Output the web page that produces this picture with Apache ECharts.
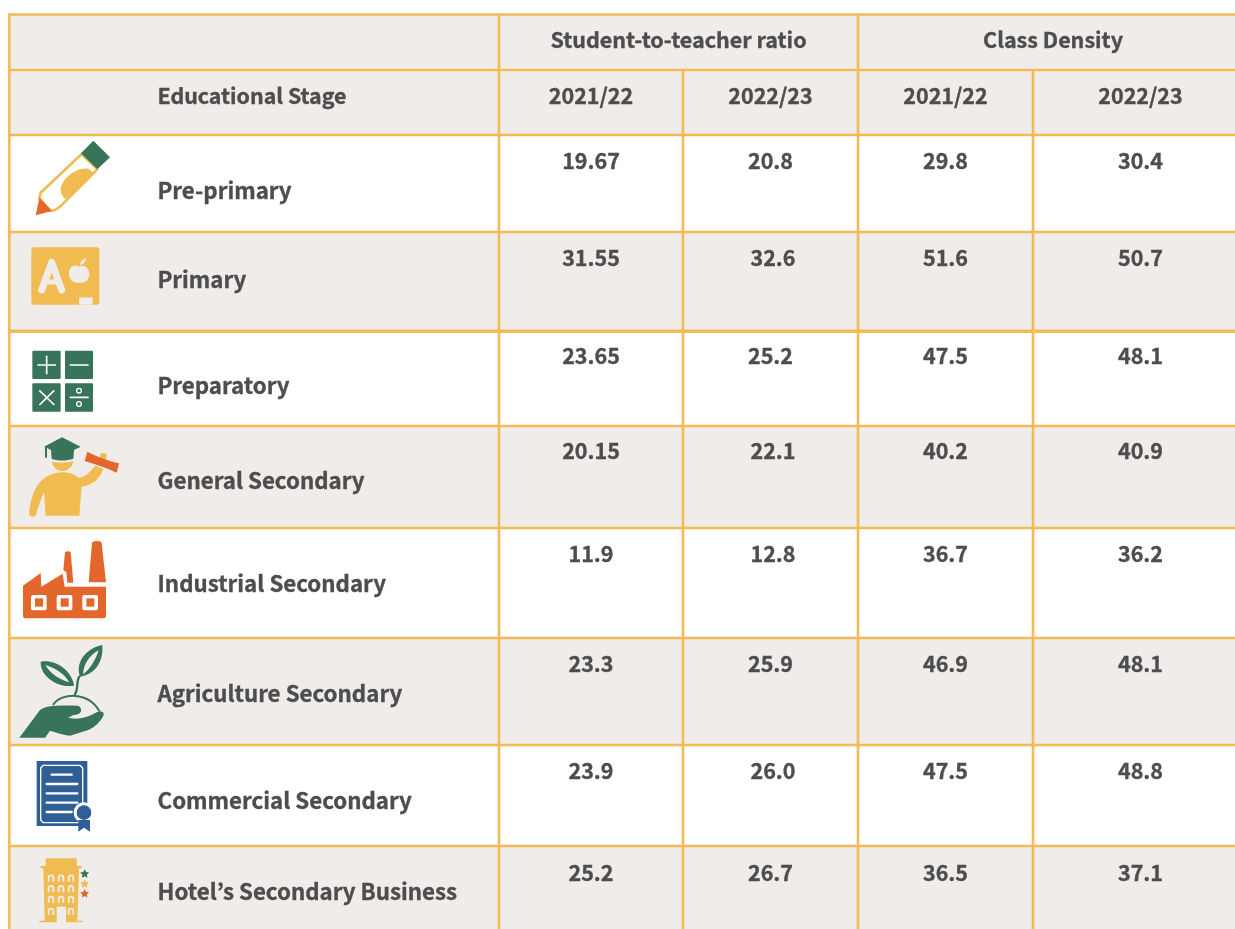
<!DOCTYPE html>
<html>
<head>
<meta charset="utf-8">
<title>Educational stages</title>
<script src="https://cdn.jsdelivr.net/npm/echarts@6/dist/echarts.min.js"></script>
<style>
  html, body { margin: 0; padding: 0; background: #fff; overflow: hidden; }
  #chart { width: 1235px; height: 929px; }
</style>
</head>
<body>
<div id="chart"></div>
<script>
// table content
const stages = ['Pre-primary', 'Primary', 'Preparatory', 'General Secondary', 'Industrial Secondary', 'Agriculture Secondary', 'Commercial Secondary', 'Hotel\u2019s Secondary Business']
const groupHeaders = ['Student-to-teacher ratio', 'Class Density']
const yearHeaders = ['2021/22', '2022/23', '2021/22', '2022/23']
const stageHeader = 'Educational Stage'
const ratio2122 = ['19.67', '31.55', '23.65', '20.15', '11.9', '23.3', '23.9', '25.2']
const ratio2223 = ['20.8', '32.6', '25.2', '22.1', '12.8', '25.9', '26.0', '26.7']
const density2122 = ['29.8', '51.6', '47.5', '40.2', '36.7', '46.9', '47.5', '36.5']
const density2223 = ['30.4', '50.7', '48.1', '40.9', '36.2', '48.1', '48.8', '37.1']

// layout of the table, in axis units
const rowEdges = [14.5, 70, 135, 232, 331.3, 426, 528, 638, 745, 846, 960]
const colEdges = [9.3, 499, 683, 858, 1033, 1248]
const stageLabelY = [190.5, 279.5, 385.5, 480.5, 583.5, 693.5, 800.5, 891.5]
const valueY = [161, 258, 356, 451, 554, 664, 771, 873]
const stageLabelX = 157.5
// some cells of the 2022/23 column sit a little off centre in the source
const ratio2223Nudge = [0, 2.5, 0, 2.5, 2.5, 0, 2.5, 0]

// colours
const LINE = '#f2bb55'
const GREY = '#f0ecea'
const INK = '#4d4d4f'
const GREEN = '#38745a'
const ORANGE = '#e3672c'
const YELLOW = '#f0bb50'
const BLUE = '#2f5f97'
const FONT = '"Noto Sans CJK JP", "Noto Sans", sans-serif'

const rowFill = (i) => (i < 2 || i % 2 === 1 ? GREY : '#ffffff')

// helpers for the icons, drawn in units of 1/3 px
const fill = (d, color) => ({ type: 'path', shape: { pathData: d }, style: { fill: color } })
const stroke = (d, color, w, cap) => ({ type: 'path', shape: { pathData: d }, style: { fill: 'none', stroke: color, lineWidth: w, lineCap: cap || 'round', lineJoin: 'round' } })
const star = (cx, cy, r, color) => {
  const pts = []
  for (let k = 0; k < 10; k++) {
    const a = -Math.PI / 2 + k * Math.PI / 5
    const rr = k % 2 ? r * 0.5 : r
    pts.push((k ? 'L' : 'M') + (cx + rr * Math.cos(a)).toFixed(1) + ' ' + (cy + rr * Math.sin(a)).toFixed(1))
  }
  return fill(pts.join(' ') + ' Z', color)
}
const arch = (x, y) => stroke(`M${x - 7} ${y + 12} V${y} A7 7 0 0 1 ${x + 7} ${y} V${y + 12}`, GREY, 5.5, 'butt')

const icons = [
  { origin: [0, 130], parts: [
    stroke('M245 72 L292 118 L180 230 L165 240 L152 243 L118 205 L122 188 Z', YELLOW, 8),
    fill('M183 170 C195 135 235 112 265 116 L282 128 L198 208 C185 200 180 185 183 170 Z', YELLOW),
    fill('M118 203 L156 243 L107 256 Z', ORANGE),
    fill('M243 70 L280 32 L330 82 L292 118 Z', GREEN)
  ] },
  { origin: [0, 130], parts: [
    { type: 'rect', shape: { x: 94, y: 352, width: 204, height: 172, r: 8 }, style: { fill: YELLOW } },
    { type: 'rect', shape: { x: 237, y: 502, width: 41, height: 22 }, style: { fill: GREY } },
    stroke('M125 480 L155 397 L185 480', GREY, 21),
    stroke('M137 456 L173 456', GREY, 15, 'butt'),
    fill('M237 410 C220 400 205 415 207 432 C208 450 222 460 238 458 C254 460 268 450 268 432 C268 413 250 402 237 410 Z', GREY),
    fill('M240 405 C240 395 248 388 258 385 C258 395 252 403 240 405 Z', GREY)
  ] },
  { origin: [0, 335], parts: [
    { type: 'rect', shape: { x: 97, y: 47, width: 85, height: 85, r: 3 }, style: { fill: GREEN } },
    { type: 'rect', shape: { x: 195, y: 47, width: 84, height: 85, r: 3 }, style: { fill: GREEN } },
    { type: 'rect', shape: { x: 97, y: 145, width: 85, height: 85, r: 3 }, style: { fill: GREEN } },
    { type: 'rect', shape: { x: 195, y: 145, width: 84, height: 85, r: 3 }, style: { fill: GREEN } },
    stroke('M140 62 V118 M112 90 H168 M209 90 H266 M118 166 L163 210 M163 166 L118 210 M209 187 H266', '#ffffff', 5, 'butt'),
    { type: 'circle', shape: { cx: 237, cy: 167, r: 7 }, style: { fill: 'none', stroke: '#ffffff', lineWidth: 4 } },
    { type: 'circle', shape: { cx: 237, cy: 207, r: 7 }, style: { fill: 'none', stroke: '#ffffff', lineWidth: 4 } }
  ] },
  { origin: [0, 335], parts: [
    { type: 'circle', shape: { cx: 310, cy: 364, r: 10 }, style: { fill: YELLOW } },
    fill('M98 545 C88 545 86 535 88 528 C95 480 110 420 180 412 C205 410 225 418 236 428 C260 425 275 405 285 392 L310 402 C300 430 280 450 245 455 L238 542 L137 542 L132 470 C125 490 112 520 110 535 C108 542 104 545 98 545 Z', YELLOW),
    fill('M156 380 C170 384 205 384 220 378 C218 395 205 408 187 408 C170 408 158 395 156 380 Z', YELLOW),
    fill('M186 307 L242 335 L222 345 L220 371 C200 378 170 378 155 371 L153 345 L141 339 L141 368 L135 368 L135 336 L132 335 Z', GREEN),
    fill('M262 350 C290 365 320 375 357 385 L350 413 C320 398 285 388 254 378 Z', ORANGE)
  ] },
  { origin: [0, 335], parts: [
    fill('M69 752 L122 714 L124 755 L188 716 L194 755 L318 755 L318 843 Q318 850 311 850 L76 850 Q69 850 69 843 Z', ORANGE),
    fill('M190 705 L195 652 Q203 645 212 652 L220 743 L202 743 L199 712 Z', ORANGE),
    fill('M266 742 L276 625 Q278 618 290 618 Q304 618 305 625 L318 742 Z', ORANGE),
    ...[93, 170, 247].flatMap((x) => [
      { type: 'rect', shape: { x: x, y: 780, width: 47, height: 46, r: 6 }, style: { fill: '#ffffff' } },
      { type: 'rect', shape: { x: x + 12, y: 790, width: 24, height: 25 }, style: { fill: ORANGE } }
    ])
  ] },
  { origin: [0, 635], parts: [
    fill('M122 80 C165 72 215 105 222 152 C175 160 120 125 122 80 Z', GREEN),
    fill('M136 90 C165 98 195 118 208 142 C180 135 150 115 136 90 Z', GREY),
    fill('M307 30 C310 70 295 115 240 125 C225 85 255 40 307 30 Z', GREEN),
    fill('M296 46 C288 72 272 100 250 118 C248 92 268 60 296 46 Z', GREY),
    stroke('M225 178 C236 160 228 140 238 125', GREEN, 7),
    stroke('M160 208 C185 172 265 170 298 228', GREEN, 6),
    fill('M58 308 L120 225 C135 212 170 210 235 212 C250 222 245 240 220 240 L205 248 C230 256 260 250 290 232 C305 225 315 232 310 242 C300 262 285 275 265 285 L210 302 C190 300 170 292 150 287 L135 308 Z', GREEN)
  ] },
  { origin: [0, 635], parts: [
    { type: 'rect', shape: { x: 110, y: 378, width: 152, height: 195 }, style: { fill: BLUE } },
    stroke('M130 391 H240 L248 399 V555 L240 563 H130 L122 555 V399 Z', '#ffffff', 4),
    stroke('M155 419 H215 M140 447 H232 M140 475 H232 M140 503 H232 M140 531 H215', '#ffffff', 7),
    { type: 'circle', shape: { cx: 252, cy: 533, r: 31 }, style: { fill: '#ffffff' } },
    fill('M235 555 H270 V590 L252 578 L235 590 Z', BLUE),
    { type: 'circle', shape: { cx: 252, cy: 533, r: 22 }, style: { fill: BLUE } }
  ] },
  { origin: [0, 635], parts: [
    fill('M137 670 H230 V693 H245 V700 H237 L232 857 H248 V862 H198 V815 H170 V862 H118 V857 H134 L130 700 H122 V693 H137 Z', YELLOW),
    ...[153, 183, 213].flatMap((x) => [arch(x, 728), arch(x, 760), arch(x, 792)]),
    arch(153, 828), arch(213, 828),
    star(254, 717, 14, GREEN), star(254, 747, 14, YELLOW), star(254, 776, 14, ORANGE)
  ] }
]

// one entry per body/header text
const textCells = []
const colCenter = (c) => (colEdges[c] + colEdges[c + 1]) / 2
textCells.push({ x: (colEdges[1] + colEdges[3]) / 2, y: 40, text: groupHeaders[0], align: 'center', size: 21.5 })
textCells.push({ x: (colEdges[3] + colEdges[5]) / 2, y: 40, text: groupHeaders[1], align: 'center', size: 21.5 })
textCells.push({ x: stageLabelX, y: 96, text: stageHeader, align: 'left', size: 21.4 })
yearHeaders.forEach((t, c) => textCells.push({ x: colCenter(c + 1), y: 96, text: t, align: 'center', size: 21.5 }))
stages.forEach((name, i) => {
  textCells.push({ x: stageLabelX, y: stageLabelY[i], text: name, align: 'left', size: 22.3 })
  ;[ratio2122, ratio2223, density2122, density2223].forEach((vals, c) => {
    const nudge = c === 1 ? ratio2223Nudge[i] : 0
    textCells.push({ x: colCenter(c + 1) + nudge, y: valueY[i], text: vals[i], align: 'center', size: 21.5 })
  })
})

const renderRow = (params, api) => {
  const i = api.value(0)
  const a = api.coord([colEdges[0], rowEdges[i]])
  const b = api.coord([colEdges[5], rowEdges[i + 1]])
  return { type: 'rect', shape: { x: a[0], y: a[1], width: b[0] - a[0], height: b[1] - a[1] }, style: { fill: rowFill(i) } }
}

const renderLines = () => {
  const kids = []
  const lw = 2.6
  rowEdges.slice(0, -1).forEach((y, r) => {
    kids.push({ type: 'line', shape: { x1: colEdges[0] - 1.3, y1: y, x2: colEdges[5], y2: y }, style: { stroke: LINE, lineWidth: r === 4 ? 3.4 : lw } })
  })
  colEdges.slice(0, -1).forEach((x, c) => {
    // the year columns split only from the second header row down
    const top = c === 2 || c === 4 ? rowEdges[1] : rowEdges[0]
    kids.push({ type: 'line', shape: { x1: x, y1: top, x2: x, y2: rowEdges[10] }, style: { stroke: LINE, lineWidth: lw } })
  })
  return { type: 'group', children: kids }
}

const renderText = (params, api) => {
  const cell = textCells[params.dataIndex]
  const p = api.coord([cell.x, cell.y])
  return {
    type: 'text',
    x: p[0],
    y: p[1],
    style: { text: cell.text, fill: INK, stroke: INK, lineWidth: 0.35, font: '700 ' + cell.size + 'px ' + FONT, align: cell.align, verticalAlign: 'middle' }
  }
}

const renderIcon = (params, api) => {
  const icon = icons[params.dataIndex]
  const p = api.coord(icon.origin)
  return { type: 'group', x: p[0], y: p[1], scaleX: 1 / 3, scaleY: 1 / 3, children: icon.parts }
}

const chart = echarts.init(document.getElementById('chart'))
chart.setOption({
  animation: false,
  backgroundColor: '#ffffff',
  tooltip: { show: false },
  grid: { left: 0, right: 0, top: 0, bottom: 0 },
  xAxis: { type: 'value', min: 0, max: 1235, show: false },
  yAxis: { type: 'value', min: 0, max: 929, inverse: true, show: false },
  series: [
    { name: 'rows', type: 'custom', clip: false, silent: true, renderItem: renderRow, data: rowEdges.slice(0, -1).map((y, i) => [i]), encode: { x: [], y: [] } },
    { name: 'lines', type: 'custom', clip: false, silent: true, renderItem: renderLines, data: [[0]], encode: { x: [], y: [] } },
    { name: 'icons', type: 'custom', clip: false, silent: true, renderItem: renderIcon, data: icons.map((ic, i) => [i]), encode: { x: [], y: [] } },
    { name: 'text', type: 'custom', clip: false, silent: true, renderItem: renderText, data: textCells.map((c, i) => [i]), encode: { x: [], y: [] } }
  ]
})

window.addEventListener('resize', () => chart.resize())
</script>
</body>
</html>
